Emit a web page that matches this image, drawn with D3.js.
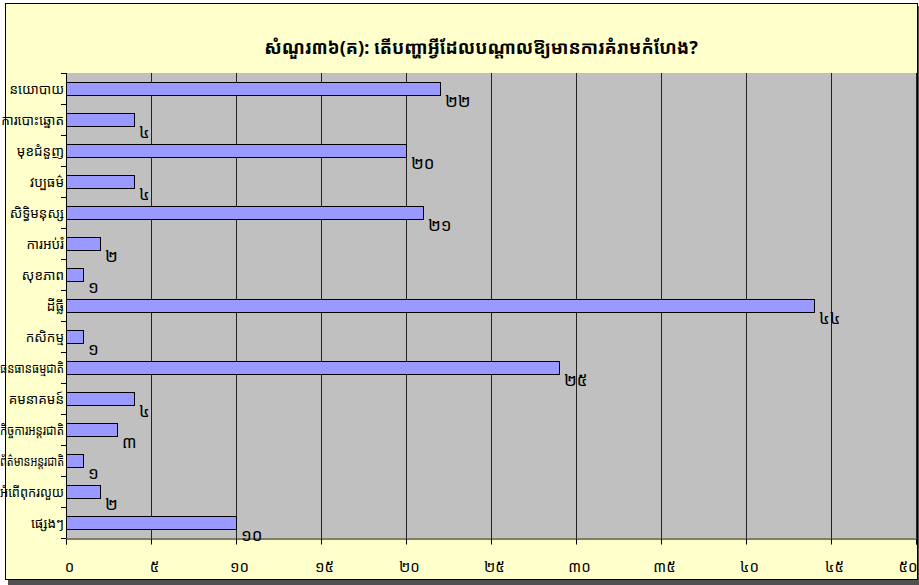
<!DOCTYPE html>
<html><head><meta charset="utf-8">
<script src="https://cdn.jsdelivr.net/npm/d3@7"></script>
<style>
body{margin:0;padding:0;background:#fff;}
svg{display:block;}
text{font-family:"Noto Sans Khmer","Khmer OS","Noto Sans","DejaVu Sans",sans-serif;}
</style></head>
<body><svg id="c" width="919" height="585"></svg>
<script>
const title = "សំណួរ៣៦(គ): តើបញ្ហាអ្វីដែលបណ្ដាលឱ្យមានការគំរាមកំហែង?";
const categories = ["នយោបាយ","ការបោះឆ្នោត","មុខជំនួញ","វប្បធម៌","សិទ្ធិមនុស្ស","ការអប់រំ","សុខភាព","ដីធ្លី","កសិកម្ម","ធនធានធម្មជាតិ","គមនាគមន៍","កិច្ចការអន្តរជាតិ","ព័ត៌មានអន្តរជាតិ","អំពើពុករលួយ","ផ្សេងៗ"];
const values = [22,4,20,4,21,2,1,44,1,29,4,3,1,2,10];
const valueLabels = ["២២","៤","២០","៤","២១","២","១","៤៤","១","២៥","៤","៣","១","២","១០"];
const tickValues = [0,5,10,15,20,25,30,35,40,45,50];
const tickLabels = ["០","៥","១០","១៥","២០","២៥","៣០","៣៥","៤០","៤៥","៥០"];

const svg = d3.select("#c");
// frame
svg.append("rect").attr("x",0).attr("y",0).attr("width",919).attr("height",585).attr("fill","#fff");
svg.append("rect").attr("x",8).attr("y",6).attr("width",911).attr("height",579).attr("fill","#505050");
svg.append("rect").attr("x",5.5).attr("y",3.5).attr("width",912).attr("height",576).attr("fill","#FFFFCC").attr("stroke","#000").attr("stroke-width",1);

const m = {l:66, t:73, r:917, b:538};
const x = d3.scaleLinear().domain([0,50]).range([m.l, m.r-1]);
const y = d3.scaleBand().domain(categories).range([m.t, m.b]).paddingInner(0).paddingOuter(0);

svg.append("rect").attr("x",m.l).attr("y",m.t).attr("width",m.r-m.l).attr("height",m.b-m.t).attr("fill","#C0C0C0");

// gridlines
svg.append("g").selectAll("line").data(tickValues.slice(1)).join("line")
  .attr("x1",d=>Math.round(x(d))+0.5).attr("x2",d=>Math.round(x(d))+0.5)
  .attr("y1",m.t).attr("y2",m.b).attr("stroke","#222").attr("stroke-width",1);

// bars
const bh = 13;
svg.append("g").selectAll("rect").data(values).join("rect")
  .attr("x",x(0)+0.5)
  .attr("y",(d,i)=>Math.round(y(categories[i])+y.bandwidth()/2-bh/2)+0.5)
  .attr("width",d=>x(d)-x(0))
  .attr("height",bh)
  .attr("fill","#9999FF").attr("stroke","#000").attr("stroke-width",1);

// value labels
svg.append("g").selectAll("text").data(values).join("text")
  .attr("x",d=>x(d)+5)
  .attr("y",(d,i)=>y(categories[i])+y.bandwidth()/2+12)
  .attr("dominant-baseline","central")
  .attr("font-size",17).attr("fill","#000")
  .text((d,i)=>valueLabels[i]);

// x axis
const xAxis = d3.axisBottom(x).tickValues(tickValues).tickFormat((d,i)=>tickLabels[i]).tickSize(6).tickPadding(17);
const gx = svg.append("g").attr("transform",`translate(0,${m.b+0.5})`).call(xAxis);
gx.select(".domain").attr("stroke","#000");
gx.selectAll(".tick line").attr("stroke","#000");
gx.selectAll(".tick text").attr("font-size",15).attr("fill","#000").attr("dx",3);
gx.selectAll(".tick text").filter(d=>d===50).attr("text-anchor","end").attr("dx",1);

// y axis
const yTicks = categories.map(c=>y(c)).concat([m.b]);
svg.append("line").attr("x1",m.l+0.5).attr("x2",m.l+0.5).attr("y1",m.t).attr("y2",m.b).attr("stroke","#000");
svg.append("g").selectAll("line").data(yTicks).join("line")
  .attr("x1",m.l-5).attr("x2",m.l).attr("y1",d=>Math.round(d)+0.5).attr("y2",d=>Math.round(d)+0.5).attr("stroke","#000");
const yl = svg.append("g").selectAll("text").data(categories).join("text")
  .attr("x",m.l-2).attr("y",d=>y(d)+y.bandwidth()/2)
  .attr("text-anchor","end").attr("dominant-baseline","central")
  .attr("font-size",13.5).attr("fill","#000").text(d=>d);
yl.each(function(){
  const w = this.getComputedTextLength();
  if (w > m.l-2) { d3.select(this).attr("textLength",m.l-2).attr("lengthAdjust","spacingAndGlyphs"); }
});

// title
svg.append("text").attr("x",481).attr("y",47).attr("text-anchor","middle").attr("dominant-baseline","central")
  .attr("font-size",18).attr("font-weight","bold").attr("fill","#000").text(title);
</script></body></html>
